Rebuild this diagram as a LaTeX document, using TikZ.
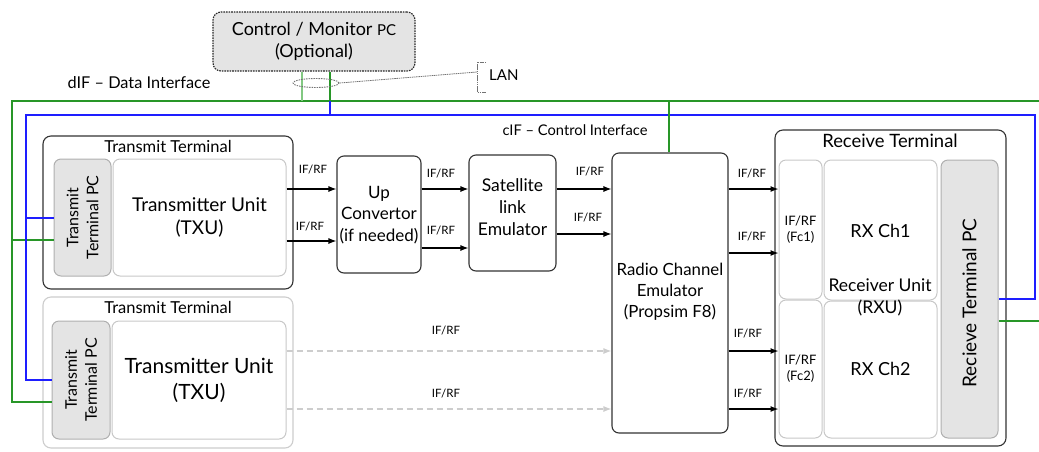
\documentclass[tikz,border=0pt]{standalone}
\usepackage{fontspec}
\setmainfont{Lato}
\usetikzlibrary{arrows.meta,calc,shapes.geometric}
\definecolor{ifgreen}{RGB}{40,150,40}
\definecolor{ifgreenlight}{RGB}{130,200,130}
\definecolor{ifblue}{RGB}{30,30,255}
\definecolor{pcfill}{RGB}{228,228,228}
\definecolor{pcedge}{RGB}{175,175,175}
\definecolor{softedge}{RGB}{200,200,200}
\definecolor{faint}{RGB}{205,205,205}
\newcommand{\fs}[1]{\fontsize{#1}{\fpeval{#1*1.25}}\selectfont}
\begin{document}
\begin{tikzpicture}[x=1pt,y=-1pt,
  blk/.style={draw=black!80, line width=1.1pt, rounded corners=7pt, inner sep=0pt, align=center},
  term/.style={draw=black!80, line width=1.1pt, rounded corners=8pt, inner sep=0pt},
  termsoft/.style={draw=faint, line width=1.1pt, rounded corners=8pt, inner sep=0pt},
  pcbox/.style={draw=pcedge, fill=pcfill, line width=1pt, rounded corners=7pt, inner sep=0pt},
  unitbox/.style={draw=softedge, fill=white, line width=1pt, rounded corners=7pt, inner sep=0pt, align=center},
  sig/.style={line width=1.1pt, -{Latex[length=8pt,width=6pt]}},
  sigsoft/.style={draw=faint, line width=1.1pt, dashed, dash pattern=on 6pt off 4pt, -{Latex[length=8pt,width=6pt]}},
  lbl/.style={font=\fs{11.5}, inner sep=0pt},
  ttl/.style={font=\fs{16.5}, inner sep=0pt},
  gline/.style={draw=ifgreen, line width=1.1pt},
  bline/.style={draw=ifblue, line width=1.1pt},
]
\useasboundingbox (0,0) rectangle (1039,451);

% Control / monitor PC
\node[draw=black!85, fill=pcfill, dashed, dash pattern=on 1.6pt off 1pt, line width=1.1pt, rounded corners=8pt,
  minimum width=202pt, minimum height=59pt, align=center, inner sep=0pt, font=\fs{18}]
  (ctrl) at (314,41.5) {Control / Monitor {\fs{15}PC}\\[-1pt](Optional)};

% Transmit terminal 1
\node[term, minimum width=250pt, minimum height=153pt] (tt1) at (168,212.5) {};
\node[ttl] (tt1t) at (168,146) {Transmit Terminal};
\node[pcbox, minimum width=57pt, minimum height=117pt] (pc1) at (82.5,217.5) {};
\node[rotate=90, align=center, font=\fs{16}, inner sep=0pt] (pc1t) at (pc1.center) {Transmit\\Terminal PC};
\node[unitbox, minimum width=173pt, minimum height=117pt, font=\fs{19}] (txu1) at (199.5,217.5) {Transmitter Unit\\(TXU)};

% Transmit terminal 2
\node[termsoft, minimum width=250pt, minimum height=151pt] (tt2) at (168,372.5) {};
\node[ttl] (tt2t) at (168,307) {Transmit Terminal};
\node[pcbox, minimum width=58pt, minimum height=118pt] (pc2) at (81,380) {};
\node[rotate=90, align=center, font=\fs{16}, inner sep=0pt] (pc2t) at (pc2.center) {Transmit\\Terminal PC};
\node[unitbox, minimum width=174pt, minimum height=118pt, font=\fs{21}] (txu2) at (199,380) {Transmitter Unit\\(TXU)};

% Chain blocks
\node[blk, minimum width=84pt, minimum height=117pt] (up) at (379,214.5) {};
\node[align=center, font=\fs{17}, inner sep=0pt] (upt) at (379,215) {Up\\Convertor\\(if needed)};
\node[blk, minimum width=87pt, minimum height=116pt] (sat) at (512.5,213) {};
\node[align=center, font=\fs{17.5}, inner sep=0pt] (satt) at (512.5,207) {Satellite\\link\\Emulator};
\node[blk, minimum width=116pt, minimum height=280pt] (rce) at (670,293) {};
\node[align=center, font=\fs{16.8}, inner sep=0pt] (rcet) at (670,292) {Radio Channel\\Emulator\\(Propsim F8)};

% Receive terminal
\node[term, minimum width=231pt, minimum height=316pt] (rt) at (890.5,288) {};
\node[font=\fs{18.4}, inner sep=0pt] (rtt) at (890,141) {Receive Terminal};
\node[unitbox, minimum width=43pt, minimum height=139pt, font=\fs{13}] (fc1) at (800.5,229.5) {IF/RF\\(Fc1)};
\node[unitbox, minimum width=43pt, minimum height=138pt, font=\fs{13}] (fc2) at (800.5,369) {IF/RF\\(Fc2)};
\node[unitbox, minimum width=113pt, minimum height=140pt] (rx1) at (880.5,230) {};
\node[unitbox, minimum width=113pt, minimum height=137pt] (rx2) at (880.5,369.5) {};
\node[font=\fs{18}, inner sep=0pt] (rx1t) at (880.5,231) {RX Ch1};
\node[font=\fs{18}, inner sep=0pt] (rx2t) at (880.5,369) {RX Ch2};
\node[align=center, font=\fs{17.5}, inner sep=0pt] (rxut) at (880,297) {Receiver Unit\\(RXU)};
\node[pcbox, minimum width=57pt, minimum height=278pt] (rpc) at (969.5,299) {};
\node[rotate=90, font=\fs{19}, inner sep=0pt] (rpct) at (969.5,303) {Recieve Terminal PC};

% Signal rows
\coordinate (ya) at (0,189);
\coordinate (yb) at (0,241);
\coordinate (yc) at (0,248);
\coordinate (yd) at (0,234);
\coordinate (ye) at (0,253);
\coordinate (yf) at (0,351);
\coordinate (yg) at (0,409);

\draw[sig] (txu1.east |- ya) -- (up.west |- ya);
\draw[sig] (txu1.east |- yb) -- (up.west |- yb);
\draw[sig] (up.east |- ya) -- (sat.west |- ya);
\draw[sig] (up.east |- yc) -- (sat.west |- yc);
\draw[sig] (sat.east |- ya) -- (rce.west |- ya);
\draw[sig] (sat.east |- yd) -- (rce.west |- yd);
\draw[sig] (rce.east |- ya) -- (fc1.west |- ya);
\draw[sig] (rce.east |- ye) -- (fc1.west |- ye);
\draw[sig] (rce.east |- yf) -- (fc2.west |- yf);
\draw[sig] (rce.east |- yg) -- (fc2.west |- yg);
\draw[sigsoft] (txu2.east |- yf) -- (rce.west |- yf);
\draw[sigsoft] (txu2.east |- yg) -- (rce.west |- yg);

\node[lbl] (l1) at (313,170) {IF/RF};
\node[lbl] (l2) at (310,227) {IF/RF};
\node[lbl] (l3) at (441,174) {IF/RF};
\node[lbl] (l4) at (441,231) {IF/RF};
\node[lbl] (l5) at (590,172) {IF/RF};
\node[lbl] (l6) at (588,218) {IF/RF};
\node[lbl] (l7) at (752,174) {IF/RF};
\node[lbl] (l8) at (752,237) {IF/RF};
\node[lbl] (l9) at (748,334) {IF/RF};
\node[lbl] (l10) at (748,394) {IF/RF};
\node[lbl] (l11) at (446,331) {IF/RF};
\node[lbl] (l12) at (446,394) {IF/RF};

% Data interface (green) and control interface (blue) buses
\coordinate (gL) at (12,101);
\coordinate (gR) at (1039,101);
\coordinate (bL) at (26,115);
\coordinate (bR) at (1035,115);
\coordinate (yg1) at (0,240);
\coordinate (yg2) at (0,402);
\coordinate (yb1) at (0,218);
\coordinate (yb2) at (0,380);
\coordinate (yrb) at (0,299);
\coordinate (yrg) at (0,321);
\coordinate (xc1) at (302,0);
\coordinate (xc2) at (330,0);
\coordinate (xcif) at (669,0);
\coordinate (xedge) at (1039,0);

\draw[gline] (pc2.west |- yg2) -- (gL |- yg2) -- (gL) -- (gR);
\draw[gline] (gL |- yg1) -- (pc1.west |- yg1);
\draw[bline] (pc2.west |- yb2) -- (bL |- yb2) -- (bL) -- (bR) -- (bR |- yrb) -- (rpc.east |- yrb);
\draw[bline] (bL |- yb1) -- (pc1.west |- yb1);
\draw[gline] (rpc.east |- yrg) -- (xedge |- yrg);
\draw[draw=ifgreenlight, line width=1.1pt] (ctrl.south -| xc1) -- (xc1 |- gL);
\draw[gline] (ctrl.south -| xc2) -- (xc2 |- gL);
\draw[bline] (xc2 |- gL) -- (xc2 |- bL);
\draw[gline] (xcif |- gL) -- (rce.north -| xcif);

\node[font=\fs{16.3}, inner sep=0pt] (dif) at (139,83) {dIF – Data Interface};
\node[font=\fs{14.7}, inner sep=0pt] (cif) at (575,130) {cIF – Control Interface};

% LAN callout
\node[draw=black!55, dashed, dash pattern=on 1.5pt off 1pt, line width=0.9pt, ellipse, minimum width=46pt, minimum height=9pt, inner sep=0pt] (lanring) at (316,83) {};
\coordinate (lanb) at (477,72);
\draw[black!55, dash pattern=on 1.5pt off 0.7pt, line width=0.8pt] (lanring.east) -- (lanb);
\draw[black!55, dash pattern=on 1.5pt off 0.7pt, line width=0.8pt] (486,62) -- (477,62) -- (477,92) -- (486,92);
\node[font=\fs{15}, anchor=west, inner sep=0pt] (lan) at (489,75) {LAN};
\end{tikzpicture}
\end{document}
